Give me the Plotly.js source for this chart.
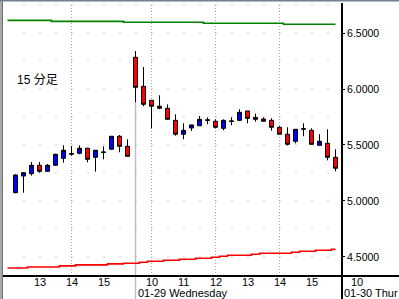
<!DOCTYPE html>
<html><head><meta charset="utf-8">
<script src="https://cdn.plot.ly/plotly-3.0.1.min.js"></script>
<style>html,body{margin:0;padding:0;background:#fff;} #chart{width:399px;height:299px;}</style>
</head><body><div id="chart"></div>
<script>
// 15-minute bars, index 0..40 (01-28 afternoon, 01-29 full day)
const openP  = [5.074,5.223,5.244,5.319,5.265,5.319,5.381,5.418,5.426,5.471,5.390,5.433,5.462,5.578,5.488,
                6.283,6.024,5.899,5.846,5.828,5.720,5.596,5.652,5.672,5.720,5.712,5.649,5.710,5.720,5.804,
                5.747,5.732,5.720,5.658,5.596,5.533,5.641,5.631,5.497,5.515,5.390];
const highP  = [5.238,5.256,5.348,5.348,5.330,5.422,5.497,5.491,5.497,5.475,5.453,5.488,5.578,5.589,5.551,
                6.339,6.196,5.899,5.944,5.863,5.774,5.694,5.679,5.759,5.747,5.729,5.729,5.747,5.819,5.804,
                5.780,5.747,5.738,5.667,5.658,5.640,5.694,5.649,5.596,5.640,5.462];
const lowP   = [5.069,5.074,5.226,5.253,5.259,5.315,5.342,5.404,5.417,5.345,5.262,5.372,5.462,5.435,5.399,
                5.881,5.846,5.649,5.819,5.729,5.583,5.551,5.625,5.672,5.685,5.649,5.631,5.676,5.712,5.694,
                5.708,5.712,5.628,5.596,5.494,5.515,5.578,5.506,5.497,5.363,5.265];
const closeP = [5.232,5.253,5.319,5.265,5.319,5.417,5.453,5.422,5.471,5.372,5.453,5.437,5.578,5.488,5.399,
                6.015,5.863,5.846,5.828,5.729,5.596,5.631,5.679,5.729,5.724,5.658,5.720,5.714,5.792,5.738,
                5.729,5.712,5.658,5.596,5.506,5.640,5.645,5.506,5.533,5.390,5.292];
// upper (green) and lower (red) band lines, index -1..40
const lineStart = -1;
const greenLine = [6.613,6.613,6.613,6.613,6.613,6.613,
                   6.604,6.604,6.604,6.604,6.604,6.604,6.604,6.604,6.604,
                   6.596,6.596,6.596,6.596,6.596,6.596,6.596,6.596,6.596,6.596,
                   6.587,6.587,6.587,6.587,6.587,6.587,6.587,6.587,6.587,6.587,
                   6.578,6.578,6.578,6.578,6.578,6.578,6.578];
const redLine = [4.402,4.402,4.402,4.411,4.411,4.411,4.411,4.420,4.420,4.429,4.429,4.429,4.429,4.438,4.438,
                 4.444,4.444,4.453,4.462,4.462,4.471,4.471,4.480,4.480,4.489,4.489,4.497,4.506,4.515,4.515,4.515,
                 4.524,4.533,4.533,4.533,4.533,4.542,4.551,4.551,4.560,4.560,4.569];
const hourTickPos  = [3,7,11,17,21,25,29,33,37];
const hourTickText = ['13','14','15','10','11','12','13','14','15'];
const dayStartIndex = 15;
const dayLabel = '01-29 Wednesday';
const nextDayHour = '10';
const nextDayLabel = '01-30 Thur';
const gridHourIndex = [7,17,25,33];
const priceTicks = [4.5,5.0,5.5,6.0,6.5];
const priceGrid = [4.5,4.75,5.0,5.25,5.5,5.75,6.0,6.25,6.5,6.75];
const chartTitle = '15 分足';

const barIndex = openP.map((_, i) => i);
const lineIndex = greenLine.map((_, i) => i + lineStart);

const L = 3, R = 57, T = 3, B = 23, W = 399 - L - R, H = 299 - T - B;
const X0 = -1.5625, X1 = X0 + W / 8, Y0 = 4.330, Y1 = 6.768;
const px = x => (x - L) / W;           // pixel -> paper x
const py = y => (299 - B - y) / H;     // pixel -> paper y
const ixp = i => (i - X0) / (X1 - X0); // index -> paper x
const vyp = v => (v - Y0) / (Y1 - Y0); // price -> paper y

const shapes = [];
priceGrid.forEach(v => shapes.push({type:'line', xref:'x', yref:'y', x0:1, x1:X1, y0:v, y1:v,
  line:{color:'#9a9a9a', width:1, dash:'1px,15px'}, layer:'below'}));
gridHourIndex.forEach(i => shapes.push({type:'line', xref:'x', yref:'paper', x0:i, x1:i, y0:0, y1:1,
  line:{color:'#a8a8a8', width:1, dash:'1px,2px'}, layer:'below'}));
// day separator (from bottom of image up to first bar of the day)
shapes.push({type:'line', xref:'paper', yref:'paper', x0:ixp(dayStartIndex), x1:ixp(dayStartIndex),
  y0:py(299), y1:vyp(lowP[dayStartIndex]), line:{color:'#c0c0c0', width:1.5}, layer:'below'});
// right axis line extended down, bottom axis extended right
shapes.push({type:'line', xref:'paper', yref:'paper', x0:1, x1:1, y0:py(299), y1:1, line:{color:'#000', width:2}});
shapes.push({type:'line', xref:'paper', yref:'paper', x0:0, x1:px(399), y0:0, y1:0, line:{color:'#000', width:2}});
// window frame
shapes.push({type:'rect', xref:'paper', yref:'paper', x0:px(0), x1:px(2), y0:py(299), y1:py(0),
  fillcolor:'#a8a8a8', line:{width:0}});
shapes.push({type:'line', xref:'paper', yref:'paper', x0:px(2.5), x1:px(2.5), y0:py(299), y1:py(0),
  line:{color:'#707070', width:1}});
shapes.push({type:'line', xref:'paper', yref:'paper', x0:px(0), x1:px(399), y0:py(0.7), y1:py(0.7),
  line:{color:'#708090', width:1.5}});

const font = 'Liberation Sans, Arial, sans-serif';
const traces = [
  {type:'scatter', mode:'lines', x:lineIndex, y:greenLine, line:{color:'#008000', width:1.6, shape:'hvh'}, hoverinfo:'skip'},
  {type:'scatter', mode:'lines', x:lineIndex, y:redLine, line:{color:'#ff0000', width:1.6, shape:'hvh'}, hoverinfo:'skip'},
  {type:'candlestick', x:barIndex, open:openP, high:highP, low:lowP, close:closeP,
   increasing:{line:{color:'#000', width:1}, fillcolor:'#0000ff'},
   decreasing:{line:{color:'#000', width:1}, fillcolor:'#ff0000'},
   whiskerwidth:0, hoverinfo:'skip'}
];

const hourAnn = hourTickPos.map((p, k) => ({text:hourTickText[k], xref:'x', yref:'paper', x:p, y:py(282),
  xanchor:'center', yanchor:'middle', showarrow:false, font:{family:font, size:11, color:'#000'}}));

const layout = {
  width:399, height:299, margin:{l:L, r:R, t:T, b:B, pad:0},
  paper_bgcolor:'#fff', plot_bgcolor:'#fff', showlegend:false, boxgap:0.5, boxgroupgap:0, boxmode:'overlay',
  font:{family:font, size:11, color:'#000'},
  xaxis:{range:[X0,X1], rangeslider:{visible:false}, showgrid:false, zeroline:false,
         showline:false, showticklabels:false, ticks:''},
  yaxis:{range:[Y0,Y1], side:'right', showgrid:false, zeroline:false, showline:false,
         tickmode:'array', tickvals:priceTicks, tickformat:'.4f', ticks:'outside', ticklen:2,
         tickcolor:'#000', tickfont:{family:font, size:10.5, color:'#000'}, ticklabelstandoff:0},
  shapes:shapes,
  annotations:hourAnn.concat([
    {text:chartTitle, xref:'paper', yref:'paper', x:px(15), y:py(80), xanchor:'left', yanchor:'middle',
     showarrow:false, font:{family:'Liberation Sans, Noto Sans CJK JP', size:12, color:'#000'}},
    {text:dayLabel, xref:'paper', yref:'paper', x:ixp(dayStartIndex), y:py(293),
     xanchor:'left', yanchor:'middle', showarrow:false, font:{family:font, size:11, color:'#000'}},
    {text:nextDayHour, xref:'paper', yref:'paper', x:px(357), y:py(282), xanchor:'center', yanchor:'middle',
     showarrow:false, font:{family:font, size:11, color:'#000'}},
    {text:nextDayLabel, xref:'paper', yref:'paper', x:px(342), y:py(293), xanchor:'left', yanchor:'middle',
     showarrow:false, font:{family:font, size:11, color:'#000'}}
  ])
};
Plotly.newPlot('chart', traces, layout, {displayModeBar:false, staticPlot:true});
</script></body></html>
